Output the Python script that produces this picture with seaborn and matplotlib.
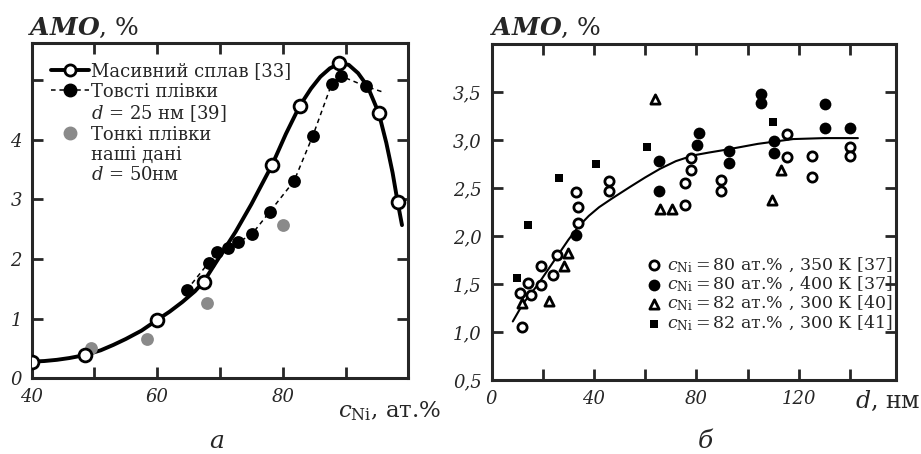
import matplotlib
matplotlib.use("Agg")
import matplotlib.pyplot as plt
from matplotlib.lines import Line2D
import seaborn as sns

# ---- panel (а): AMO vs Ni content ----
bulk_c = [40, 48.5, 60, 67.4, 78.3, 82.7, 88.9, 95.3, 98.3]
bulk_amo = [0.28, 0.39, 0.98, 1.62, 3.58, 4.57, 5.29, 4.45, 2.96]
# smooth guide line through bulk data
bulk_curve_c = [40, 42, 44, 46, 48.5, 51, 53, 55, 57.5, 60, 62, 64, 66,
                67.4, 70, 72.5, 75, 78.3, 80.5, 82.7, 84.5, 86, 87.5, 89,
                90.5, 92, 93.5, 95.3, 96.5, 97.5, 98.3, 99.0]
bulk_curve_amo = [0.28, 0.29, 0.31, 0.34, 0.39, 0.47, 0.56, 0.66, 0.80, 0.98,
                  1.12, 1.28, 1.46, 1.62, 2.05, 2.46, 2.92, 3.58, 4.10, 4.57,
                  4.86, 5.06, 5.20, 5.28, 5.26, 5.12, 4.90, 4.45, 3.95, 3.45,
                  2.96, 2.57]

thick_c = [64.7, 68.2, 69.5, 71.3, 72.9, 75.1, 77.9, 81.8, 84.8, 87.8, 89.3, 93.2]
thick_amo = [1.48, 1.94, 2.12, 2.19, 2.28, 2.42, 2.79, 3.31, 4.07, 4.94, 5.07, 4.90]
thick_line_c = thick_c + [96.3]
thick_line_amo = thick_amo + [4.79]

thin_c = [49.4, 58.3, 67.9, 80.0]
thin_amo = [0.51, 0.66, 1.27, 2.57]

# ---- panel (б): AMO vs film thickness ----
o350_d = [12.0, 11.1, 15.3, 14.4, 19.2, 19.3, 24.1, 25.4, 33.0, 33.9, 33.9,
          45.9, 45.9, 75.5, 75.5, 77.9, 77.9, 89.8, 89.8, 115.4, 115.4,
          125.1, 125.1, 140.2, 140.2]
o350_amo = [1.05, 1.41, 1.39, 1.51, 1.49, 1.69, 1.59, 1.80, 2.46, 2.30, 2.14,
            2.57, 2.47, 2.55, 2.32, 2.81, 2.69, 2.58, 2.47, 3.06, 2.82,
            2.83, 2.61, 2.93, 2.83]

f400_d = [33.0, 65.4, 65.4, 80.1, 81.0, 92.8, 92.8, 105.2, 105.2, 110.2,
          110.2, 130.1, 130.1, 140.2]
f400_amo = [2.01, 2.78, 2.47, 2.95, 3.07, 2.89, 2.76, 3.48, 3.39, 2.99,
            2.86, 3.38, 3.13, 3.13]

tri_d = [12.0, 22.4, 28.3, 29.7, 63.8, 65.8, 70.6, 109.7, 113.2]
tri_amo = [1.30, 1.32, 1.69, 1.82, 3.43, 2.28, 2.28, 2.37, 2.69]

sq_d = [9.8, 14.4, 26.5, 40.7, 60.6, 110.1]
sq_amo = [1.56, 2.11, 2.60, 2.75, 2.93, 3.19]

fit_d = [8.3, 12.4, 18, 25.4, 30, 34, 38, 42, 47, 54, 60, 65.8, 72, 78.8,
         85, 91.8, 104, 117.8, 130, 143.1]
fit_amo = [1.11, 1.30, 1.49, 1.78, 1.96, 2.10, 2.21, 2.30, 2.39, 2.51, 2.61,
           2.70, 2.78, 2.84, 2.87, 2.90, 2.96, 3.01, 3.02, 3.02]

legend_b = [r"$c_{\mathrm{Ni}} = 80$ ат.% , 350 К [37]",
            r"$c_{\mathrm{Ni}} = 80$ ат.% , 400 К [37]",
            r"$c_{\mathrm{Ni}} = 82$ ат.% , 300 К [40]",
            r"$c_{\mathrm{Ni}} = 82$ ат.% , 300 К [41]"]

sns.set_style("ticks")
plt.rcParams['font.family'] = ['DejaVu Serif']
plt.rcParams['mathtext.fontset'] = 'dejavuserif'
plt.rcParams['axes.linewidth'] = 2.2

GRAY = '#8a8a8a'
FS = 13

fig = plt.figure(figsize=(9.21, 4.54), dpi=100)
ax1 = fig.add_axes([0.0344, 0.1667, 0.4089, 0.7379])
ax2 = fig.add_axes([0.5337, 0.163, 0.4392, 0.740])

# panel a
sns.lineplot(x=bulk_curve_c, y=bulk_curve_amo, ax=ax1, color='k', lw=2.8,
             sort=False, estimator=None, zorder=2)
sns.lineplot(x=thick_line_c, y=thick_line_amo, ax=ax1, color='k', lw=1.1,
             sort=False, estimator=None, zorder=2)
ax1.lines[-1].set_linestyle((0, (3, 2.5)))
sns.scatterplot(x=thin_c, y=thin_amo, ax=ax1, color=GRAY, s=85,
                linewidth=0, zorder=3)
sns.scatterplot(x=thick_c, y=thick_amo, ax=ax1, color='k', s=85,
                linewidth=0, zorder=4)
sns.scatterplot(x=bulk_c, y=bulk_amo, ax=ax1, color='white', edgecolor='k',
                s=85, linewidth=2, zorder=5)

ax1.set_xlim(40, 100)
ax1.set_ylim(0, 5.62)
ax1.set_xticks([40, 50, 60, 70, 80, 90])
ax1.set_xticklabels(['40', '', '60', '', '80', ''])
ax1.set_yticks([0, 1, 2, 3, 4, 5])
ax1.set_yticklabels(['0', '1', '2', '3', '4', ''])

h_bulk = Line2D([], [], color='k', lw=2.8, marker='o', ms=8,
                mfc='white', mec='k', mew=2)
h_thick = Line2D([], [], color='k', lw=1.1, ls=(0, (3, 2.5)), marker='o',
                 ms=9, mfc='k', mec='k')
h_thin = Line2D([], [], color=GRAY, lw=0, marker='o', ms=9, mec=GRAY)
h_none = Line2D([], [], lw=0, alpha=0)
ax1.legend([h_bulk, h_thick, h_none, h_thin, h_none, h_none],
           ["Масивний сплав [33]", "Товсті плівки", r"$d$ = 25 нм [39]",
            "Тонкі плівки", "наші дані", r"$d$ = 50нм"],
           loc='upper left', bbox_to_anchor=(0.027, 0.97), frameon=False,
           fontsize=FS, handlelength=2.1, handletextpad=0.1,
           labelspacing=0.12, borderaxespad=0.2, borderpad=0.3)

# panel b
sns.lineplot(x=fit_d, y=fit_amo, ax=ax2, color='k', lw=1.5,
             sort=False, estimator=None, zorder=2)
sns.scatterplot(x=o350_d, y=o350_amo, ax=ax2, color='white', edgecolor='k',
                marker='o', s=44, linewidth=2, zorder=3, label=legend_b[0])
sns.scatterplot(x=f400_d, y=f400_amo, ax=ax2, color='k', edgecolor='k',
                marker='o', s=72, linewidth=0, zorder=3, label=legend_b[1])
sns.scatterplot(x=tri_d, y=tri_amo, ax=ax2, color='white', edgecolor='k',
                marker='^', s=44, linewidth=2, zorder=3, label=legend_b[2])
sns.scatterplot(x=sq_d, y=sq_amo, ax=ax2, color='k', edgecolor='k',
                marker='s', s=40, linewidth=0, zorder=3, label=legend_b[3])

ax2.set_xlim(0, 158)
ax2.set_ylim(0.5, 4.0)
ax2.set_xticks([0, 20, 40, 60, 80, 100, 120, 140])
ax2.set_xticklabels(['0', '', '40', '', '80', '', '120', ''])
yt = [0.5, 1.0, 1.5, 2.0, 2.5, 3.0, 3.5]
ax2.set_yticks(yt)
ax2.set_yticklabels([f"{v:.1f}".replace('.', ',') for v in yt])
ax2.legend(loc='lower right', bbox_to_anchor=(1.0, 0.13), frameon=False,
           fontsize=12.5, handlelength=0.6, handletextpad=0.45,
           labelspacing=0.0, borderaxespad=0.1, borderpad=0.1)

for ax in (ax1, ax2):
    ax.set_xlabel('')
    ax.set_ylabel('')
    ax.tick_params(direction='in', length=8, width=2.0, top=True, right=True,
                   labelsize=FS, pad=7)
    for lab in ax.get_xticklabels() + ax.get_yticklabels():
        lab.set_fontstyle('italic')
    for sp in ax.spines.values():
        sp.set_visible(True)
        sp.set_linewidth(2.2)

# axis captions
fig.text(28 / 921, 1 - 35 / 454, r"$\mathbfit{AMO}$, %", fontsize=18,
         ha='left', va='baseline')
fig.text(490 / 921, 1 - 35 / 454, r"$\mathbfit{AMO}$, %", fontsize=18,
         ha='left', va='baseline')
fig.text(441 / 921, 1 - 417 / 454, r"$c_{\mathrm{Ni}}$, ат.%", fontsize=16.5,
         ha='right', va='baseline')
fig.text(921 / 921, 1 - 408 / 454, r"$d$, нм", fontsize=17,
         ha='right', va='baseline')
fig.text(217 / 921, 1 - 448 / 454, r"$a$", fontsize=18, ha='center',
         va='baseline')
fig.text(705 / 921, 1 - 448 / 454, "б", fontsize=18, ha='center',
         va='baseline', style='italic')

fig.savefig("out.png", dpi=100)
